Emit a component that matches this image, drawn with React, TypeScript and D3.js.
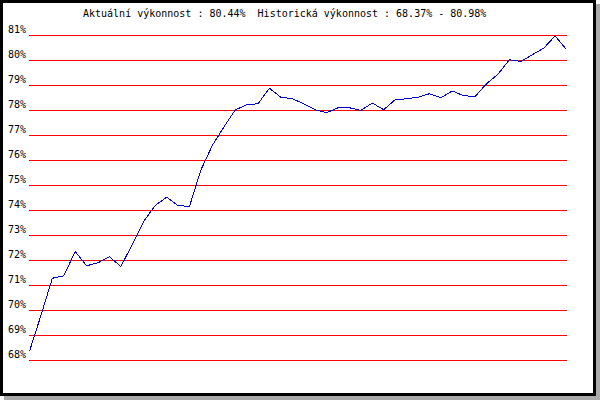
import React from "react";
import * as d3 from "d3";

const titleText = "Aktuální výkonnost : 80.44%  Historická výkonnost : 68.37% - 80.98%";
const yTicks = [81, 80, 79, 78, 77, 76, 75, 74, 73, 72, 71, 70, 69, 68];
const performance = [
  68.37, 69.8, 71.29, 71.39, 72.36, 71.79, 71.91, 72.15, 71.76, 72.65,
  73.57, 74.2, 74.53, 74.2, 74.16, 75.62, 76.6, 77.33, 78.02, 78.23,
  78.27, 78.89, 78.53, 78.47, 78.27, 78.03, 77.91, 78.11, 78.11, 78.0,
  78.3, 78.03, 78.43, 78.47, 78.53, 78.67, 78.51, 78.78, 78.59, 78.56,
  79.07, 79.45, 80.03, 79.96, 80.23, 80.49, 80.98, 80.44,
];

const W = 600;
const H = 400;
const FONT = "'DejaVu Sans Mono', monospace";

export default function App() {
  const y = d3.scaleLinear().domain([68, 81]).range([360, 35]);
  const x = d3.scaleLinear().domain([0, performance.length - 1]).range([29, 566]);
  const line = d3
    .line<number>()
    .x((_, i) => x(i) + 0.5)
    .y((d) => y(d) + 0.5);

  return (
    <svg
      width={W}
      height={H}
      style={{ position: "absolute", left: 0, top: 0, display: "block" }}
    >
      <rect x={4} y={4} width={596} height={396} fill="#aaaaaa" />
      <rect x={1.5} y={1.5} width={593} height={393} fill="#ffffff" stroke="#000000" strokeWidth={3} />
      <text
        x={83}
        y={17}
        fontFamily={FONT}
        fontSize={10}
        fill="#000"
        xmlSpace="preserve"
        style={{ whiteSpace: "pre" }}
      >
        {titleText}
      </text>
      {yTicks.map((t) => (
        <g key={t}>
          <line
            x1={29}
            x2={567}
            y1={Math.round(y(t)) + 0.5}
            y2={Math.round(y(t)) + 0.5}
            stroke="#ff0000"
            strokeWidth={1}
            shapeRendering="crispEdges"
          />
          <text x={8} y={Math.round(y(t)) - 2} fontFamily={FONT} fontSize={10} fill="#000">
            {`${t}%`}
          </text>
        </g>
      ))}
      <path
        d={line(performance) || ""}
        fill="none"
        stroke="#0000cc"
        strokeWidth={1}
        shapeRendering="crispEdges"
      />
    </svg>
  );
}
